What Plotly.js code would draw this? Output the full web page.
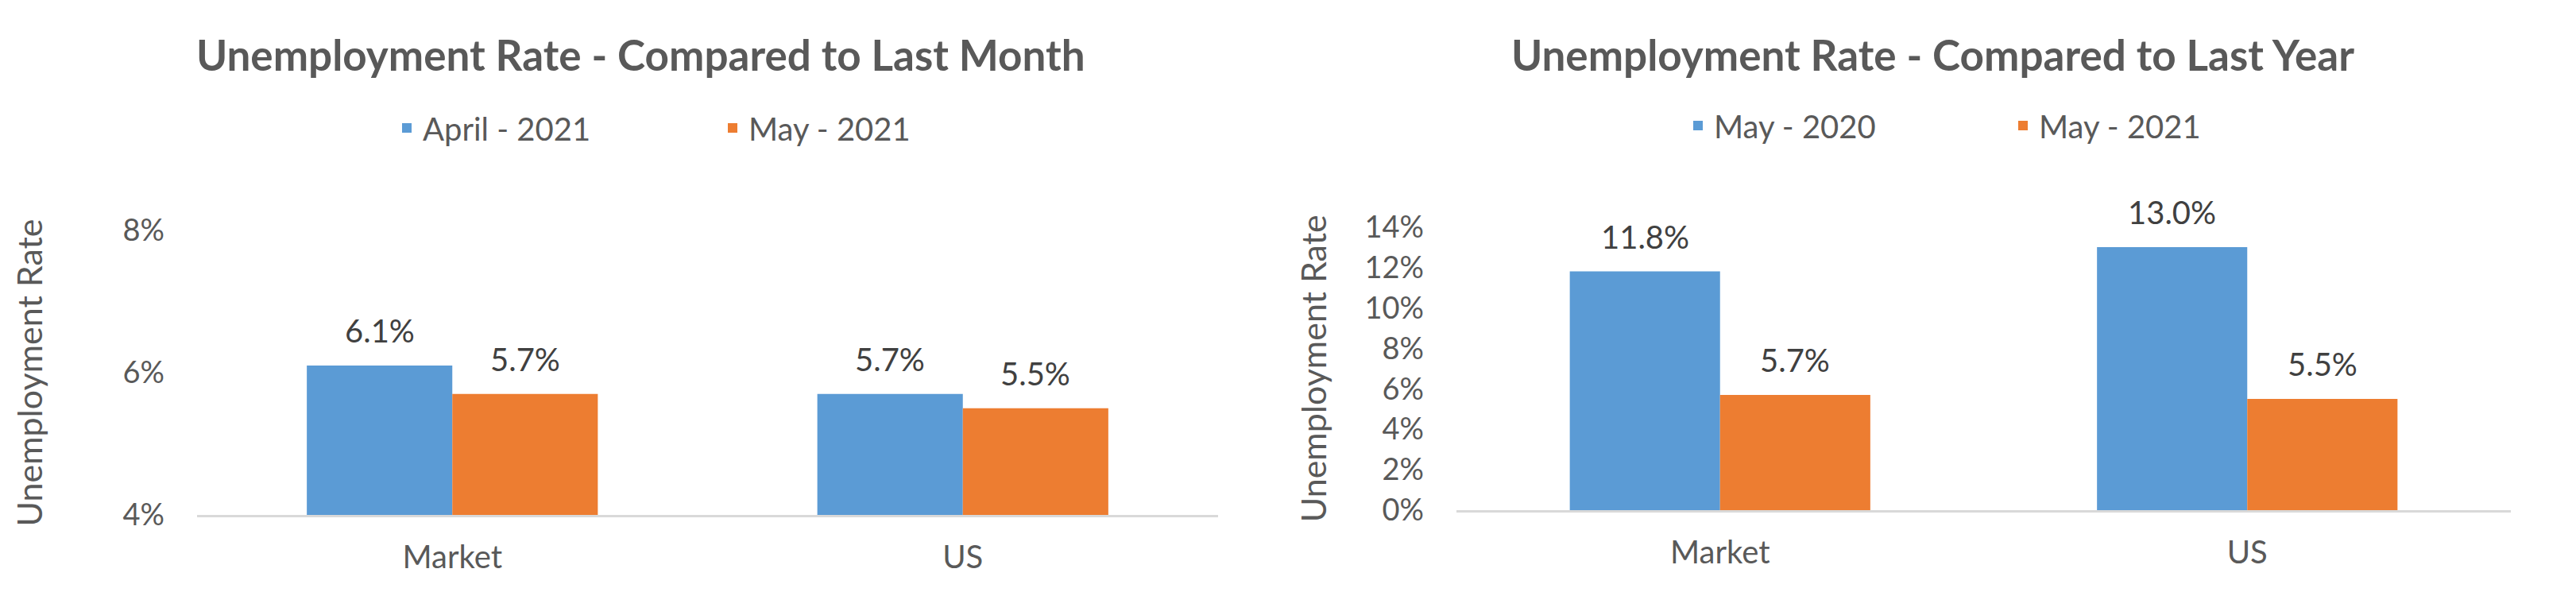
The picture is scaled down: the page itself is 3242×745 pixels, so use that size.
<!DOCTYPE html>
<html>
<head>
<meta charset="utf-8">
<script src="https://cdn.plot.ly/plotly-3.0.1.min.js"></script>
<style>html,body{margin:0;padding:0;background:#fff;}#chart{width:3242px;height:745px;}</style>
</head>
<body>
<div id="chart"></div>
<script>
// ---- data ----
const categories = ["Market", "US"];
const monthSeriesNames = ["April - 2021", "May - 2021"];
const monthApril2021 = [6.1, 5.7];
const monthMay2021 = [5.7, 5.5];
const yearSeriesNames = ["May - 2020", "May - 2021"];
const yearMay2020 = [11.8, 13.0];
const yearMay2021 = [5.7, 5.5];
const titleMonth = "Unemployment Rate - Compared to Last Month";
const titleYear = "Unemployment Rate - Compared to Last Year";
const yTitle = "Unemployment Rate";

// ---- style ----
const BLUE = "#5B9BD5", ORANGE = "#ED7D31";
const FONT = "Lato, 'Open Sans', sans-serif";
const GREY = "#595959";
const W = 3242, H = 745;
const BARGAP = 0.43;

const traces = [
  {type: "bar", x: categories, y: monthApril2021, name: monthSeriesNames[0], marker: {color: BLUE}, xaxis: "x", yaxis: "y", legend: "legend", hoverinfo: "x+y+name"},
  {type: "bar", x: categories, y: monthMay2021, name: monthSeriesNames[1], marker: {color: ORANGE}, xaxis: "x", yaxis: "y", legend: "legend", hoverinfo: "x+y+name"},
  {type: "bar", x: categories, y: yearMay2020, name: yearSeriesNames[0], marker: {color: BLUE}, xaxis: "x2", yaxis: "y2", legend: "legend2", hoverinfo: "x+y+name"},
  {type: "bar", x: categories, y: yearMay2021, name: yearSeriesNames[1], marker: {color: ORANGE}, xaxis: "x2", yaxis: "y2", legend: "legend2", hoverinfo: "x+y+name"}
];

// value labels positioned through the axes (category index +/- half a bar slot)
const half = (1 - BARGAP) / 4;
const annotations = [];
function addLabels(vals, offset, xref, yref) {
  vals.forEach((v, i) => {
    annotations.push({
      x: i + offset, y: v, xref: xref, yref: yref,
      text: v.toFixed(1) + "%", showarrow: false,
      yanchor: "bottom", xanchor: "center", yshift: 18,
      font: {family: FONT, size: 40, color: "#404040"}
    });
  });
}
addLabels(monthApril2021, -half, "x", "y");
addLabels(monthMay2021, half, "x", "y");
addLabels(yearMay2020, -half, "x2", "y2");
addLabels(yearMay2021, half, "x2", "y2");

annotations.push({text: "<b>" + titleMonth + "</b>", xref: "paper", yref: "paper", x: 806 / W, y: 1 - 68 / H,
  xanchor: "center", yanchor: "middle", showarrow: false, font: {family: FONT, size: 53, color: GREY}});
annotations.push({text: "<b>" + titleYear + "</b>", xref: "paper", yref: "paper", x: 2432 / W, y: 1 - 68 / H,
  xanchor: "center", yanchor: "middle", showarrow: false, font: {family: FONT, size: 53, color: GREY}});

const xCommon = {
  type: "category", showline: true, linecolor: "#D9D9D9", linewidth: 3,
  showgrid: false, zeroline: false, ticks: "", ticklabelstandoff: 16,
  tickfont: {family: FONT, size: 40, color: GREY}, fixedrange: true
};
const yCommon = {
  showline: false, showgrid: false, zeroline: false, ticks: "", ticksuffix: "%",
  dtick: 2, tick0: 0, ticklabelstandoff: 40,
  tickfont: {family: FONT, size: 38, color: GREY}, fixedrange: true
};

const layout = {
  width: W, height: H,
  margin: {l: 0, r: 0, t: 0, b: 0},
  paper_bgcolor: "#fff", plot_bgcolor: "#fff",
  barmode: "group", bargap: BARGAP, bargroupgap: 0,
  showlegend: true,
  font: {family: FONT, color: GREY},
  xaxis: Object.assign({}, xCommon, {domain: [248 / W, 1533 / W], anchor: "y"}),
  xaxis2: Object.assign({}, xCommon, {domain: [1833 / W, 3160 / W], anchor: "y2"}),
  yaxis: Object.assign({}, yCommon, {domain: [1 - 648 / H, 1 - 290 / H], range: [4, 8], anchor: "x",
    title: {text: yTitle, standoff: 87, font: {family: FONT, size: 43, color: GREY}}}),
  yaxis2: Object.assign({}, yCommon, {domain: [1 - 642 / H, 1 - 285.6 / H], range: [0, 14], anchor: "x2",
    title: {text: yTitle, standoff: 34, font: {family: FONT, size: 43, color: GREY}}}),
  legend: {orientation: "h", x: 492 / W, y: 1 - 161 / H, xanchor: "left", yanchor: "middle",
    entrywidth: 365, font: {family: FONT, size: 40, color: GREY}, bgcolor: "rgba(0,0,0,0)"},
  legend2: {orientation: "h", x: 2117 / W, y: 1 - 158 / H, xanchor: "left", yanchor: "middle",
    entrywidth: 364, font: {family: FONT, size: 40, color: GREY}, bgcolor: "rgba(0,0,0,0)"},
  annotations: annotations
};

Plotly.newPlot("chart", traces, layout, {staticPlot: true, displayModeBar: false});
</script>
</body>
</html>
